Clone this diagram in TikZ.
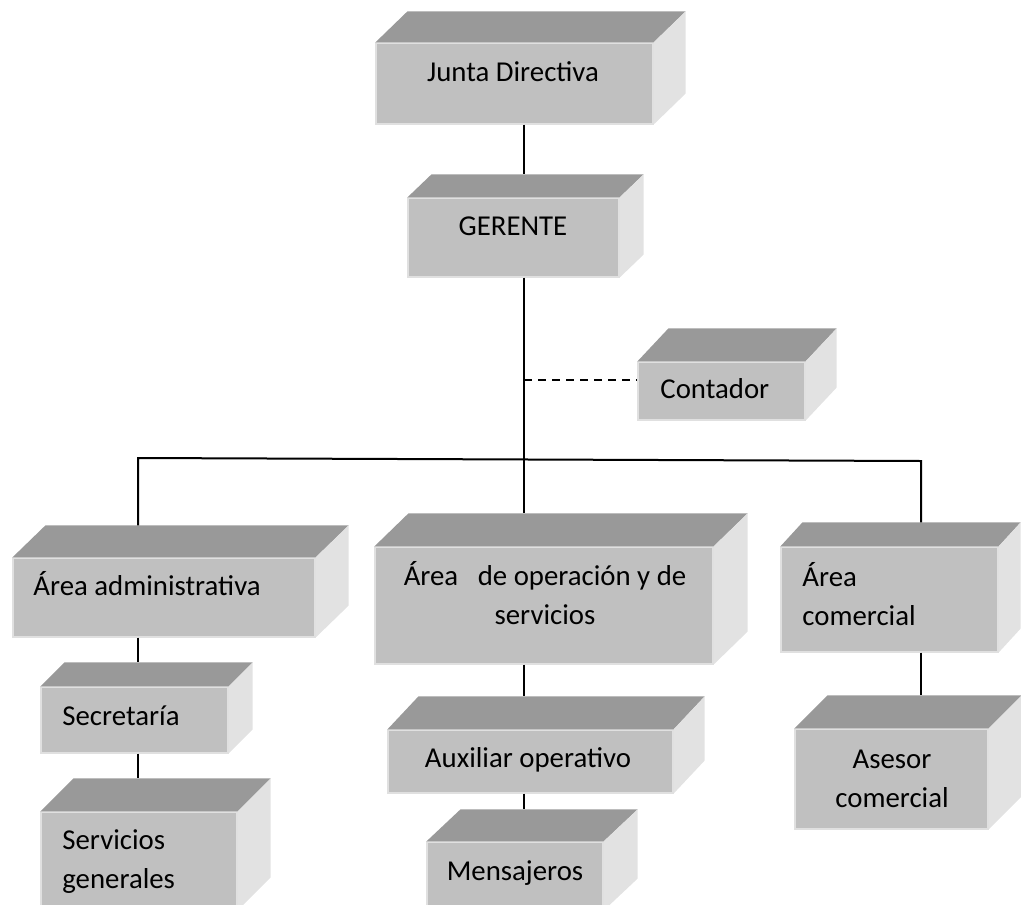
\documentclass[tikz,border=0pt]{standalone}
\usepackage{fontspec}
\setmainfont{Carlito}
\usetikzlibrary{calc}
\definecolor{cajafrente}{HTML}{C0C0C0}
\definecolor{cajatapa}{HTML}{999999}
\definecolor{cajalado}{HTML}{E2E2E2}

\begin{document}
\begin{tikzpicture}[x=0.5pt,y=-0.5pt,
  caja/.style={rectangle,fill=cajafrente,draw=black!12,line width=0.6pt,inner sep=0pt},
  texto/.style={font=\fontsize{14.4}{19.5}\selectfont,inner sep=0pt,anchor=base},
  linea/.style={line width=1pt}]
\useasboundingbox (0,0) rectangle (1021,904);
\clip (0,0) rectangle (1021,904);
% frentes de las cajas
\node [caja,minimum width=138.5pt,minimum height=40.5pt] (junta) at (514.5,83.5) {};
\node [caja,minimum width=105.5pt,minimum height=39.5pt] (gerente) at (513.5,237.5) {};
\node [caja,minimum width=83.5pt,minimum height=29pt] (contador) at (721.5,391) {};
\node [caja,minimum width=151pt,minimum height=39.5pt] (admin) at (164,597.5) {};
\node [caja,minimum width=169pt,minimum height=58.5pt] (operacion) at (544,605.5) {};
\node [caja,minimum width=108.5pt,minimum height=52.5pt] (comercial) at (889.5,599.5) {};
\node [caja,minimum width=93.5pt,minimum height=33pt] (secretaria) at (134.5,720) {};
\node [caja,minimum width=98pt,minimum height=49pt] (servicios) at (139,861) {};
\node [caja,minimum width=142.5pt,minimum height=31.5pt] (auxiliar) at (530.5,761.5) {};
\node [caja,minimum width=88pt,minimum height=34pt] (mensajeros) at (515,876) {};
\node [caja,minimum width=96.5pt,minimum height=50pt] (asesor) at (891.5,779) {};
% tapa y costado (efecto 3D)
\foreach \n/\dx/\dy in {junta/32/31, gerente/24/23, contador/31/33, admin/33/32,
    operacion/34/33, comercial/22/24, secretaria/24/24, servicios/33/33,
    auxiliar/31/33, mensajeros/34/32, asesor/33/33}{
  \fill[cajatapa] (\n.north west) -- ++(\dx,-\dy) -- ($(\n.north east)+(\dx,-\dy)$) -- (\n.north east) -- cycle;
  \fill[cajalado] (\n.north east) -- ++(\dx,-\dy) -- ($(\n.south east)+(\dx,-\dy)$) -- (\n.south east) -- cycle;
  \coordinate (\n-b) at ($(\n.north west)+(\dx,-\dy)$);
}
% textos (en los de dos lineas, base = ultima linea)
\node [texto] (junta-t) at (513,82) {Junta Directiva};
\node [texto] (gerente-t) at (513,235) {GERENTE};
\node [texto,anchor=base west] (contador-t) at (660,398) {Contador};
\node [texto,anchor=base west] (admin-t) at (33,595) {Área administrativa};
\node [texto,align=center] (operacion-t) at (545,624) {Área\ \ \ de operación y de\\servicios};
\node [texto,anchor=base west,align=left] (comercial-t) at (802,625) {Área\\comercial};
\node [texto,anchor=base west] (secretaria-t) at (62,725) {Secretaría};
\node [texto,anchor=base west,align=left] (servicios-t) at (62,888) {Servicios\\generales};
\node [texto] (auxiliar-t) at (528,767) {Auxiliar operativo};
\node [texto] (mensajeros-t) at (515,880) {Mensajeros};
\node [texto,align=center] (asesor-t) at (892,807) {Asesor\\comercial};
% lineas
\coordinate (trunk) at (524,0);
\coordinate (barL) at (138,458);
\coordinate (barR) at (921,461);
\coordinate (cdash) at ($(contador.west)+(0,-11)$);
\draw [linea] (junta.south -| trunk) -- (gerente-b -| trunk);
\draw [linea] (gerente.south -| trunk) -- (operacion-b -| trunk);
\draw [line width=0.75pt,dash pattern=on 4pt off 3pt] (trunk |- cdash) -- (cdash);
\draw [linea] (admin-b -| barL) -- (barL) -- (barR) -- (comercial-b -| barR);
\draw [linea] (admin.south -| barL) -- (secretaria-b -| barL);
\draw [linea] (secretaria.south -| barL) -- (servicios-b -| barL);
\draw [linea] (operacion.south -| trunk) -- (auxiliar-b -| trunk);
\draw [linea] (auxiliar.south -| trunk) -- (mensajeros-b -| trunk);
\draw [linea] (comercial.south -| barR) -- (asesor-b -| barR);
\end{tikzpicture}
\end{document}
